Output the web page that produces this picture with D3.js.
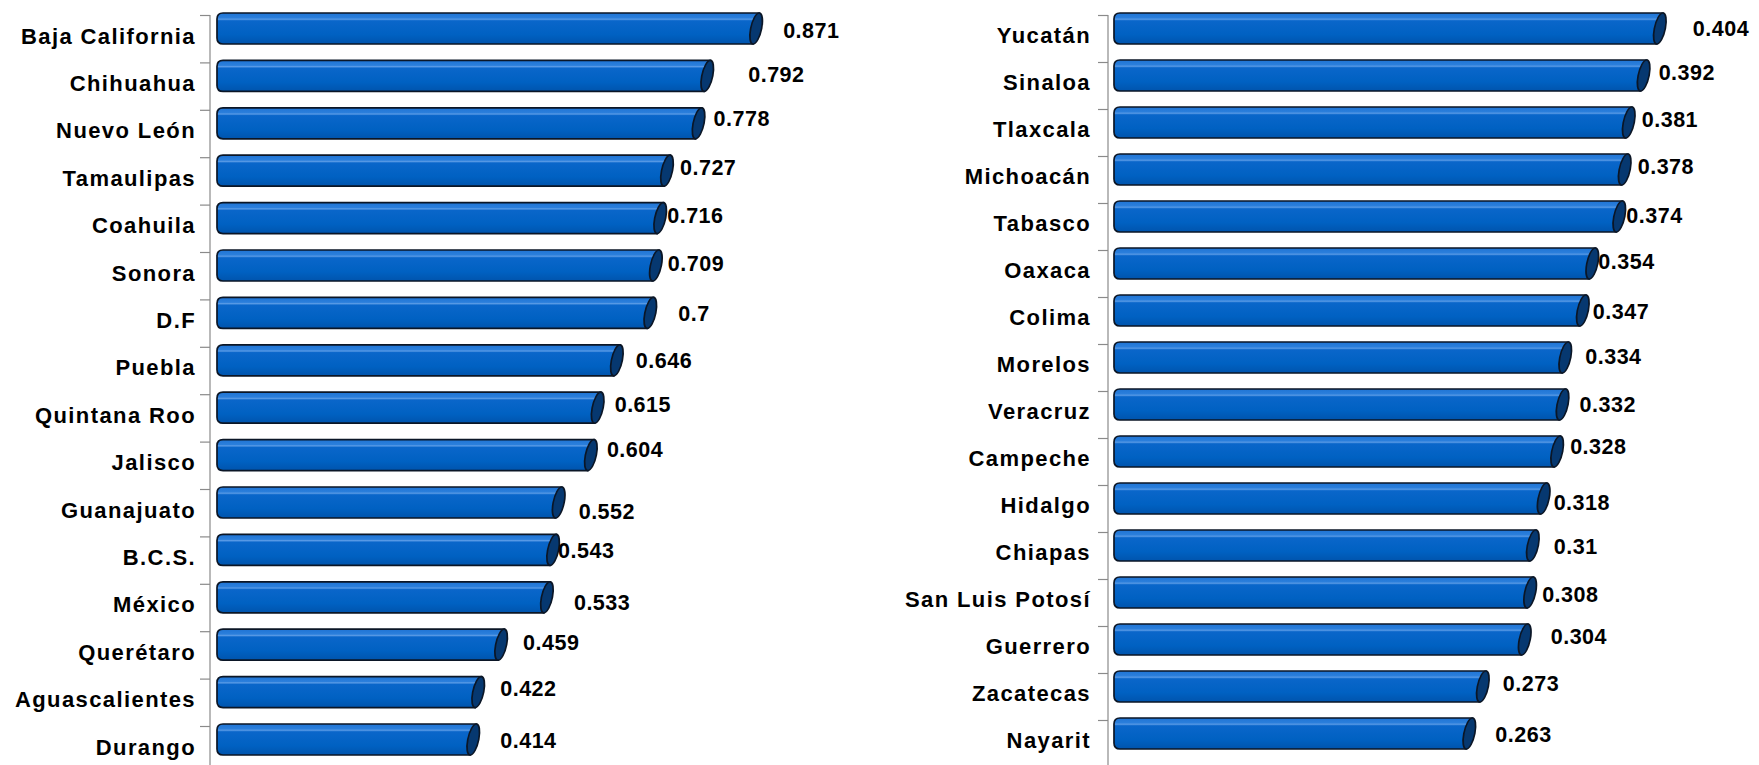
<!DOCTYPE html>
<html>
<head>
<meta charset="utf-8">
<script src="https://cdn.jsdelivr.net/npm/d3@7"></script>
<style>
  body { margin: 0; background: #fff; }
  svg { display: block; }
  text { font-family: "Liberation Sans", Arial, sans-serif; font-weight: bold; fill: #000; }
</style>
</head>
<body>
<svg id="chart"></svg>
<script>
// states and index values, left chart
var leftStates = ["Baja California", "Chihuahua", "Nuevo León", "Tamaulipas", "Coahuila", "Sonora", "D.F", "Puebla",
  "Quintana Roo", "Jalisco", "Guanajuato", "B.C.S.", "México", "Querétaro", "Aguascalientes", "Durango"];
var leftValues = [0.871, 0.792, 0.778, 0.727, 0.716, 0.709, 0.7, 0.646, 0.615, 0.604, 0.552, 0.543, 0.533, 0.459, 0.422, 0.414];
var leftLabels = ["0.871", "0.792", "0.778", "0.727", "0.716", "0.709", "0.7", "0.646", "0.615", "0.604", "0.552", "0.543", "0.533", "0.459", "0.422", "0.414"];

// right chart
var rightStates = ["Yucatán", "Sinaloa", "Tlaxcala", "Michoacán", "Tabasco", "Oaxaca", "Colima", "Morelos",
  "Veracruz", "Campeche", "Hidalgo", "Chiapas", "San Luis Potosí", "Guerrero", "Zacatecas", "Nayarit"];
var rightValues = [0.404, 0.392, 0.381, 0.378, 0.374, 0.354, 0.347, 0.334, 0.332, 0.328, 0.318, 0.31, 0.308, 0.304, 0.273, 0.263];
var rightLabels = ["0.404", "0.392", "0.381", "0.378", "0.374", "0.354", "0.347", "0.334", "0.332", "0.328", "0.318", "0.31", "0.308", "0.304", "0.273", "0.263"];

// hand placed data labels (offset from bar end / band centre), like in the original
var leftNudge = [[27,-8],[41,-12],[15,-15],[13,-14],[7,-13],[12,-12],[28,-10],[19,-10],
  [17,-14],[16,-16],[20,-1],[5,-10],[27,-5],[22,-13],[22,-14],[27,-9]];
var rightNudge = [[33,-10],[15,-13],[13,-13],[13,-13],[7,-11],[6,-12],[10,-9],[20,-11],
  [17,-10],[13,-15],[10,-6],[21,-9],[12,-8],[26,-13],[20,-13],[26,-9]];

var W = 1759, H = 765;
var svg = d3.select("#chart").attr("width", W).attr("height", H);

var defs = svg.append("defs");
var grad = defs.append("linearGradient")
  .attr("id", "barFill").attr("x1", 0).attr("y1", 0).attr("x2", 0).attr("y2", 1);
grad.append("stop").attr("offset", "0%").attr("stop-color", "#1f74d4");
grad.append("stop").attr("offset", "16%").attr("stop-color", "#2b7fdc");
grad.append("stop").attr("offset", "20%").attr("stop-color", "#5a9be6");
grad.append("stop").attr("offset", "25%").attr("stop-color", "#0a66ca");
grad.append("stop").attr("offset", "70%").attr("stop-color", "#0061c2");
grad.append("stop").attr("offset", "100%").attr("stop-color", "#0054ad");

var drawPanel = function(cfg)
{
  var g = svg.append("g");

  var xScale = d3.scaleLinear()
    .domain(cfg.domain)
    .range([cfg.x0, cfg.x1]);

  var yScale = d3.scaleBand()
    .domain(cfg.states)
    .range([15, 15 + cfg.states.length * cfg.step])
    .padding(0);

  var bw = yScale.bandwidth();
  var rows = cfg.states.map(function(s, i) {
    return { state: s, value: cfg.values[i], label: cfg.labels[i], nudge: cfg.nudge[i] };
  });

  // axis line + ticks at band edges
  g.append("line")
    .attr("x1", cfg.axisX).attr("x2", cfg.axisX)
    .attr("y1", yScale.range()[0]).attr("y2", H)
    .attr("stroke", "#8a8a8a").attr("stroke-width", 1.2);

  g.selectAll(".tick")
    .data(rows)
    .enter()
    .append("line")
    .attr("x1", cfg.axisX - 10).attr("x2", cfg.axisX)
    .attr("y1", function(d){ return yScale(d.state) + 0.5 })
    .attr("y2", function(d){ return yScale(d.state) + 0.5 })
    .attr("stroke", "#8a8a8a").attr("stroke-width", 1.2);

  // category labels
  g.selectAll(".cat")
    .data(rows)
    .enter()
    .append("text")
    .attr("x", cfg.labelX)
    .attr("y", function(d){ return yScale(d.state) + bw / 2 - 3 })
    .attr("dy", "0.36em")
    .attr("text-anchor", "end")
    .style("font-size", "22px")
    .style("letter-spacing", "1.4px")
    .text(function(d){ return d.state });

  // bars: body with rounded left end, slanted elliptic cap on the right
  var bars = g.selectAll(".bar")
    .data(rows)
    .enter()
    .append("g");

  var barTop = function(d){ return yScale(d.state) - 2 };
  var barH = 31;

  bars.append("path")
    .attr("d", function(d) {
      var x0 = xScale(0), xe = xScale(d.value), t = barTop(d), b = t + barH, r = 6;
      return "M" + (xe + 3) + "," + t +
        " L" + (x0 + r) + "," + t +
        " Q" + x0 + "," + t + " " + x0 + "," + (t + r) +
        " L" + x0 + "," + (b - r) +
        " Q" + x0 + "," + b + " " + (x0 + r) + "," + b +
        " L" + (xe - 3) + "," + b + " Z";
    })
    .attr("fill", "url(#barFill)")
    .attr("stroke", "#0b1626")
    .attr("stroke-width", 1.7);

  bars.append("ellipse")
    .attr("transform", function(d) {
      return "translate(" + xScale(d.value) + "," + (barTop(d) + barH / 2) + ") skewX(-11)";
    })
    .attr("rx", 5.5)
    .attr("ry", barH / 2)
    .attr("fill", "#063870")
    .attr("stroke", "#0b1626")
    .attr("stroke-width", 1.7);

  // value labels
  g.selectAll(".val")
    .data(rows)
    .enter()
    .append("text")
    .attr("x", function(d){ return xScale(d.value) + d.nudge[0] })
    .attr("y", function(d){ return yScale(d.state) + bw / 2 + d.nudge[1] })
    .attr("dy", "0.36em")
    .style("font-size", "21.5px")
    .style("letter-spacing", "0.5px")
    .text(function(d){ return d.label });
}

drawPanel({
  states: leftStates, values: leftValues, labels: leftLabels, nudge: leftNudge,
  domain: [0, 1], x0: 217, x1: 836, step: 47.4, axisX: 210, labelX: 196
});

drawPanel({
  states: rightStates, values: rightValues, labels: rightLabels, nudge: rightNudge,
  domain: [0, 0.45], x0: 1114, x1: 1722, step: 47, axisX: 1108, labelX: 1091
});
</script>
</body>
</html>
